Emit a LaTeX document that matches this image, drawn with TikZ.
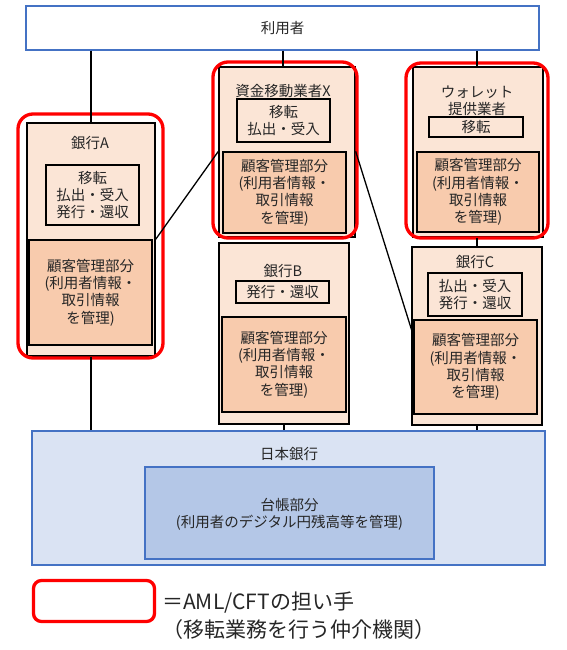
\documentclass[tikz,border=0pt]{standalone}
\usepackage{fontspec}
\usetikzlibrary{calc}
\newfontfamily\jp{Noto Sans CJK JP}
\definecolor{peach}{HTML}{FBE5D6}
\definecolor{salmon}{HTML}{F8CBAD}
\definecolor{bjfill}{HTML}{DAE3F3}
\definecolor{bjin}{HTML}{B4C7E7}
\definecolor{bjline}{HTML}{4472C4}
\newcommand{\mkbox}[6]{%
  \node[#1, minimum width={(#5)-(#3)}, minimum height={(#6)-(#4)}] (#2) at ({((#3)+(#5))/2},{((#4)+(#6))/2}) {};}
\begin{document}
\begin{tikzpicture}[x=1pt,y=-1pt,
  pale/.style={draw=black, fill=peach, line width=1.3pt, inner sep=0},
  sub/.style={draw=black, fill=peach, line width=1.3pt, inner sep=0},
  cust/.style={draw=black, fill=salmon, line width=1.3pt, inner sep=0},
  ring/.style={draw=red, line width=3.3pt, rounded corners=15pt, inner sep=0},
  ublue/.style={draw=bjline, fill=white, line width=1.3pt, inner sep=0},
  bjo/.style={draw=bjline, fill=bjfill, line width=1.3pt, inner sep=0},
  bji/.style={draw=bjline, fill=bjin, line width=1.3pt, inner sep=0},
  txt/.style={font=\jp\fontsize{14.5}{17.3}\selectfont, align=center, inner sep=0, text=black!85},
  lgd/.style={font=\jp\fontsize{21}{27}\selectfont, align=left, inner sep=0, anchor=west, text=black!85},
  conn/.style={draw=black, line width=1.3pt}]
\useasboundingbox (0,0) rectangle (567,650);
% user
\mkbox{ublue}{user}{26}{6}{539}{50}
\node[txt] (usert) at (user) {利用者};
% Bank A
\mkbox{pale}{A}{27}{123}{155}{356}
\mkbox{sub}{Amv}{46}{165}{139}{225}
\mkbox{cust}{Acu}{29}{240}{152}{345}
\node[txt] (At) at (90,143) {銀行A};
\node[txt] (Amvt) at (Amv) {移転\\払出・受入\\発行・還収};
\node[txt] (Acut) at (Acu) {顧客管理部分\\(利用者情報・\\取引情報\\を管理)};
% X
\mkbox{pale}{X}{219}{67}{355}{237}
\mkbox{sub}{Xmv}{237}{99}{330}{142}
\mkbox{cust}{Xcu}{223}{152}{346}{233}
\node[txt] (Xt) at (283,91) {資金移動業者X};
\node[txt] (Xmvt) at (Xmv) {移転\\払出・受入};
\node[txt] (Xcut) at (Xcu) {顧客管理部分\\(利用者情報・\\取引情報\\を管理)};
% B
\mkbox{pale}{B}{219}{243}{349}{424}
\mkbox{sub}{Bmv}{236}{281}{329}{303}
\mkbox{cust}{Bcu}{222}{317}{346}{412}
\node[txt] (Bt) at (283,271) {銀行B};
\node[txt] (Bmvt) at (Bmv) {発行・還収};
\node[txt] (Bcut) at (Bcu) {顧客管理部分\\(利用者情報・\\取引情報\\を管理)};
% Wallet
\mkbox{pale}{W}{413}{67}{543}{237}
\mkbox{sub}{Wmv}{429}{117}{523}{137}
\mkbox{cust}{Wcu}{417}{152}{539}{232}
\node[txt] (Wt) at (477,101) {ウォレット\\提供業者};
\node[txt] (Wmvt) at (Wmv) {移転};
\node[txt] (Wcut) at (Wcu) {顧客管理部分\\(利用者情報・\\取引情報\\を管理)};
% C
\mkbox{pale}{C}{412}{247}{542}{425}
\mkbox{sub}{Cmv}{428}{273}{522}{316}
\mkbox{cust}{Ccu}{414}{320}{537}{414}
\node[txt] (Ct) at (475,262) {銀行C};
\node[txt] (Cmvt) at (Cmv) {払出・受入\\発行・還収};
\node[txt] (Ccut) at (Ccu) {顧客管理部分\\(利用者情報・\\取引情報\\を管理)};
% BOJ
\mkbox{bjo}{boj}{32}{431}{545}{565}
\node[txt] (bojt) at (289,454) {日本銀行};
\mkbox{bji}{led}{145}{467}{434}{559}
\node[txt] (ledt) at (289.5,514.5) {台帳部分\\(利用者のデジタル円残高等を管理)};
% rings
\mkbox{ring}{rA}{18}{114}{163}{358}
\mkbox{ring}{rX}{213}{62}{357}{238}
\mkbox{ring}{rW}{406}{63}{548}{238}
\mkbox{ring, rounded corners=8pt}{rL}{33.5}{580.5}{154.5}{621.5}
% legend
\node[lgd] (l1) at (162,603) {＝AML/CFTの担い手};
\node[lgd] (l2) at (162,630) {（移転業務を行う仲介機関）};
% connectors
\draw[conn] (A.north |- user.south) -- (A.north);
\draw[conn] (Xt |- user.south) -- (Xt |- X.north);
\draw[conn] (Wt |- user.south) -- (Wt |- W.north);
\draw[conn] (Wt |- W.south) -- (Wt |- C.north);
\draw[conn] (A.south) -- (A.south |- boj.north);
\draw[conn] (B.south) -- (B.south |- boj.north);
\draw[conn] (C.south) -- (C.south |- boj.north);
\draw[conn] (A.east |- Acu.north) -- (X.west |- Xcu.north);
\draw[conn] (X.east |- Xcu.north) -- ($(Ccu.north west)!0.17!(Ccu.south west)$);
\end{tikzpicture}
\end{document}
